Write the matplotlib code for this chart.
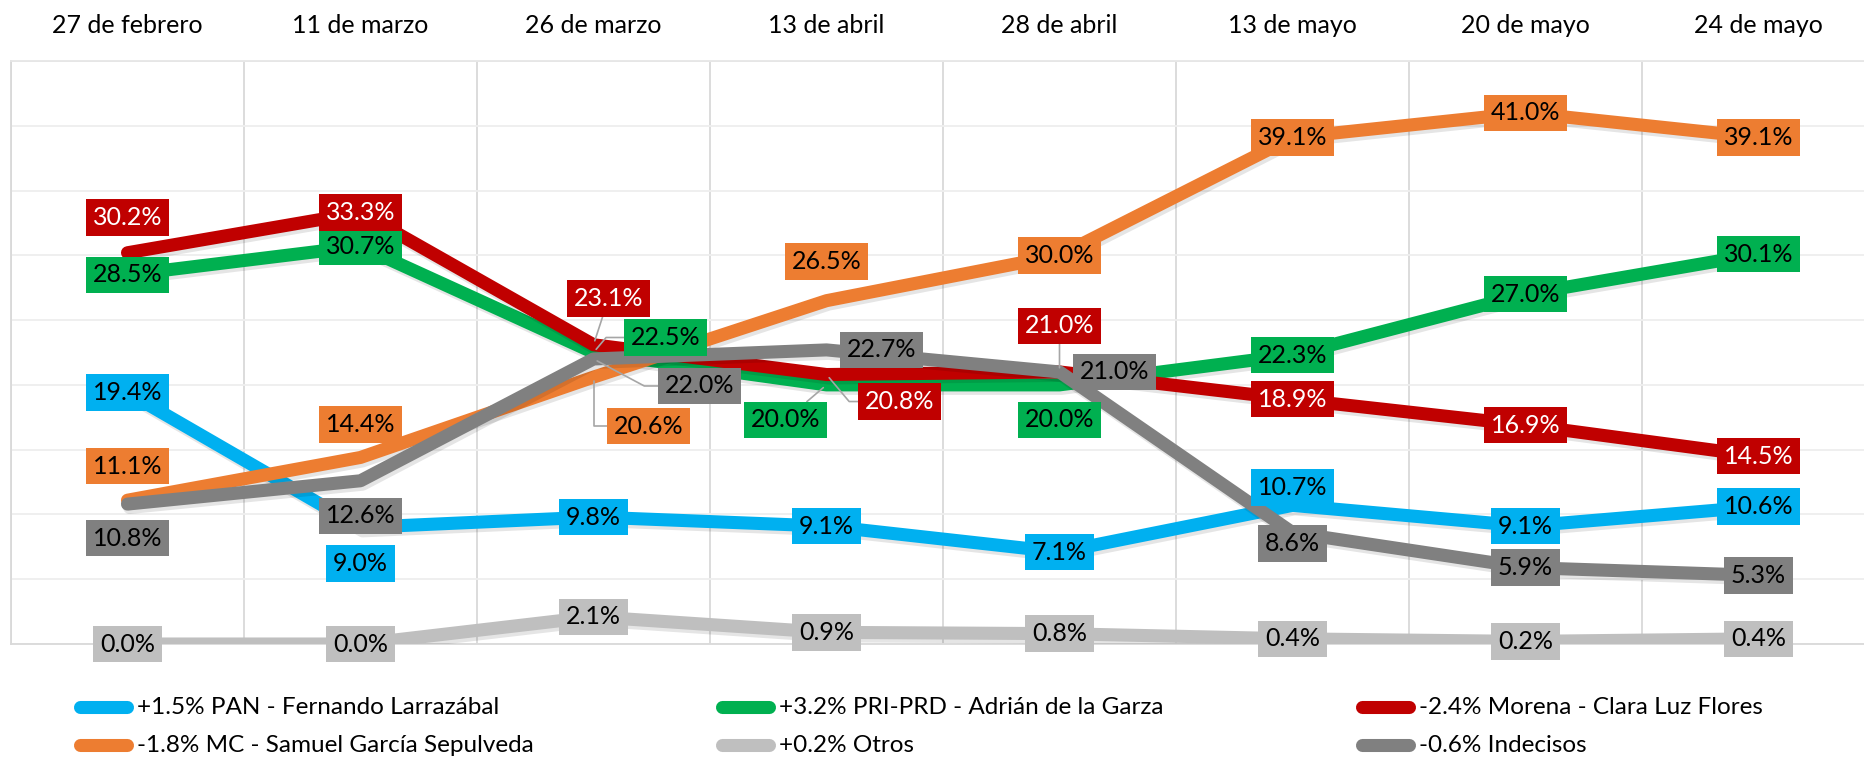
import matplotlib
matplotlib.use('Agg')
import matplotlib.pyplot as plt
from matplotlib.lines import Line2D
import matplotlib.patheffects as pe

plt.rcParams['font.family'] = ['Lato', 'DejaVu Sans']

# ---------------- data ----------------
dates = ["27 de febrero", "11 de marzo", "26 de marzo", "13 de abril",
         "28 de abril", "13 de mayo", "20 de mayo", "24 de mayo"]
pan = [19.4, 9.0, 9.8, 9.1, 7.1, 10.7, 9.1, 10.6]
pri = [28.5, 30.7, 22.5, 20.0, 20.0, 22.3, 27.0, 30.1]
morena = [30.2, 33.3, 23.1, 20.8, 21.0, 18.9, 16.9, 14.5]
mc = [11.1, 14.4, 20.6, 26.5, 30.0, 39.1, 41.0, 39.1]
otros = [0.0, 0.0, 2.1, 0.9, 0.8, 0.4, 0.2, 0.4]
indecisos = [10.8, 12.6, 22.0, 22.7, 21.0, 8.6, 5.9, 5.3]
legend_labels = ["+1.5% PAN - Fernando Larrazábal",
                 "+3.2% PRI-PRD - Adrián de la Garza",
                 "-2.4% Morena - Clara Luz Flores",
                 "-1.8% MC - Samuel García Sepulveda",
                 "+0.2% Otros",
                 "-0.6% Indecisos"]

# ---------------- styles ----------------
series = [pan, pri, morena, mc, otros, indecisos]
colors = ["#00B0F0", "#00B050", "#C00000", "#ED7D31", "#BFBFBF", "#808080"]
text_colors = ["black", "black", "white", "black", "black", "black"]

# label offsets in pixels (dx right, dy up) relative to the data point
offsets_px = {
    (2, 0): (0, 35), (3, 0): (0, 34), (5, 0): (0, -34),
    (0, 1): (0, -36), (3, 1): (0, 33), (5, 1): (0, -35),
    (2, 2): (15, 46), (1, 2): (72, 15), (5, 2): (106, -27), (3, 2): (55, -49),
    (3, 3): (0, 39), (5, 3): (55, 0), (1, 3): (-41, -35), (2, 3): (73, -27),
    (2, 4): (0, 46), (5, 4): (55, 0), (1, 4): (0, -35),
    (0, 5): (0, 18), (5, 5): (0, -11),
}
leaders = {
    (2, 2): "arc3", (1, 2): "angle,angleA=0,angleB=50,rad=0",
    (5, 2): "angle,angleA=0,angleB=-28,rad=0", (3, 2): "angle,angleA=0,angleB=90,rad=0",
    (1, 3): "arc3", (2, 3): "angle,angleA=0,angleB=-50,rad=0", (2, 4): "arc3",
}

W, H = 1864, 758
fig = plt.figure(figsize=(W / 100, H / 100), dpi=100)
left_px, top_px, bottom_px, band_px = 11, 61, 644, 233
ax = fig.add_axes([left_px / W, 1 - bottom_px / H, 8 * band_px / W, (bottom_px - top_px) / H])

x = list(range(len(dates)))
LW = 9.4
shadow = [pe.SimpleLineShadow(offset=(1.5, -2.5), alpha=0.10), pe.Normal()]
for k, (vals, c) in enumerate(zip(series, colors)):
    ax.plot(x, vals, color=c, lw=LW, solid_capstyle='round', solid_joinstyle='round',
            zorder=3 + k, path_effects=shadow)

px2pt = 0.72
for k, vals in enumerate(series):
    for i, v in enumerate(vals):
        dx, dy = offsets_px.get((k, i), (0, 0))
        arrow = None
        if (k, i) in leaders:
            arrow = dict(arrowstyle='-', color='#A6A6A6', lw=1.2,
                         connectionstyle=leaders[(k, i)], shrinkA=0, shrinkB=3)
        ax.annotate(f"{v:.1f}%", xy=(i, v), xycoords='data',
                    xytext=(dx * px2pt, dy * px2pt), textcoords='offset points',
                    ha='center', va='center', fontsize=18, color=text_colors[k],
                    bbox=dict(boxstyle='square,pad=0.27', fc=colors[k], ec='none'),
                    arrowprops=arrow, zorder=20, annotation_clip=False)

ax.set_xlim(-0.5, 7.5)
ax.set_ylim(0, 45)
ax.set_xticks(x)
ax.set_xticklabels(dates, fontsize=18)
ax.xaxis.tick_top()
ax.tick_params(axis='x', length=0, pad=17)
ax.set_xticks([i - 0.5 for i in range(9)], minor=True)
ax.tick_params(axis='x', which='minor', length=0)
ax.set_yticks(range(0, 50, 5))
ax.tick_params(axis='y', length=0, labelleft=False)
ax.grid(axis='x', which='minor', color='#D9D9D9', lw=1.3)
ax.grid(axis='y', which='major', color='#EEEEEE', lw=1.3)
ax.grid(axis='x', which='major', visible=False)
ax.set_axisbelow(True)
ax.spines['right'].set_visible(False)
ax.spines['left'].set_color('#D9D9D9')
ax.spines['top'].set_color('#E6E6E6')
ax.spines['bottom'].set_color('#D9D9D9')
for s in ['left', 'top', 'bottom']:
    ax.spines[s].set_linewidth(1.3)

# legend (manual layout, 2 rows x 3 columns)
col_x = [74, 716, 1356]
row_y = [707, 745]
for idx, (lab, c) in enumerate(zip(legend_labels, colors)):
    r, cidx = divmod(idx, 3)
    x0 = col_x[cidx]
    y0 = row_y[r]
    fig.add_artist(Line2D([(x0 + 6) / W, (x0 + 53) / W], [1 - y0 / H, 1 - y0 / H],
                          color=c, lw=LW, solid_capstyle='round', transform=fig.transFigure))
    fig.text((x0 + 63) / W, 1 - y0 / H, lab, fontsize=17.5, va='center', ha='left', color='black')

fig.savefig('out.png', dpi=100, facecolor='white')
